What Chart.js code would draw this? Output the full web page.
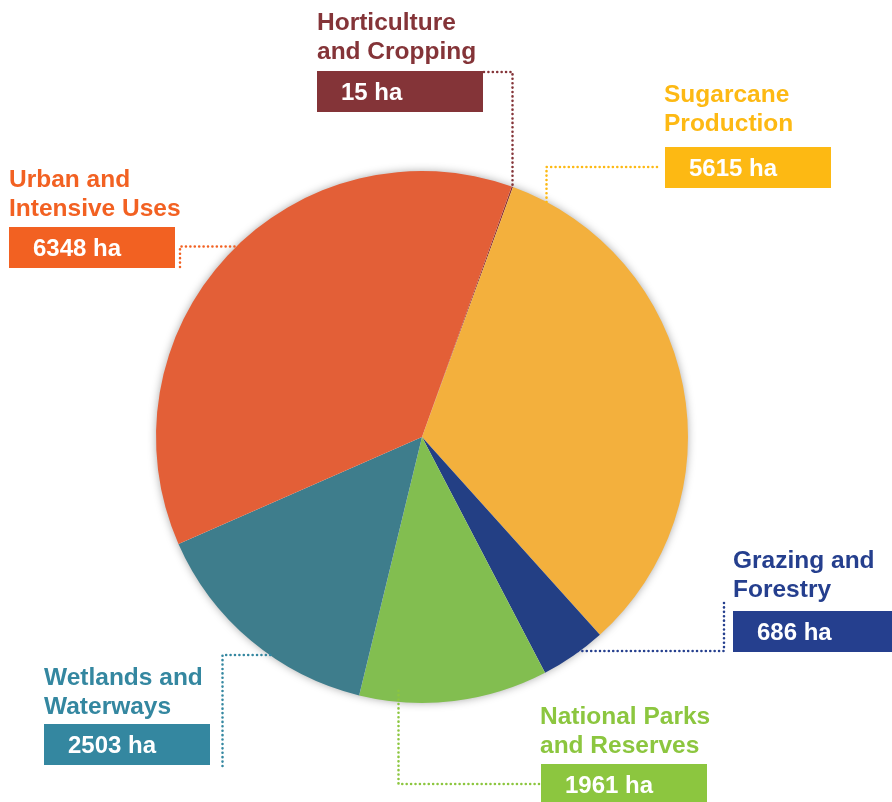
<!DOCTYPE html>
<html>
<head>
<meta charset="utf-8">
<script src="https://cdn.jsdelivr.net/npm/chart.js@4.4.1/dist/chart.umd.min.js"></script>
<style>
  html, body { margin: 0; padding: 0; background: #ffffff; }
  #wrap { width: 892px; height: 802px; position: relative; }
</style>
</head>
<body>
<div id="wrap"><canvas id="c" width="892" height="802"></canvas></div>
<script>
// ---- data ----
const categories = ['Horticulture and Cropping', 'Sugarcane Production', 'Grazing and Forestry', 'National Parks and Reserves', 'Wetlands and Waterways', 'Urban and Intensive Uses'];
const titleLines = [['Horticulture', 'and Cropping'], ['Sugarcane', 'Production'], ['Grazing and', 'Forestry'], ['National Parks', 'and Reserves'], ['Wetlands and', 'Waterways'], ['Urban and', 'Intensive Uses']];
const areas = [15, 5615, 686, 1961, 2503, 6348];
const unit = 'ha';

// ---- styles ----
const sliceColors = ['#8a3739', '#f3b03d', '#233f84', '#82be50', '#3e7d8c', '#e35f37'];
const labelColors = ['#843438', '#fdb913', '#253f8e', '#8cc63f', '#3487a0', '#f26122'];

// label layout: title x / first baseline, box rect, value text x, leader path
const labelLayout = [
  { tx: 317, ty: 30,  bx: 317, by: 71,  bw: 166, bh: 41, vx: 341, leader: { sx: 484, sy: 72,  cx: 512.5, cy: 72,  dir: 'v', side: -1, inset: 0 } },
  { tx: 664, ty: 102, bx: 665, by: 147, bw: 166, bh: 41, vx: 689, leader: { sx: 657, sy: 167, cx: 546.5, cy: 167, dir: 'v', side: -1, inset: 3 } },
  { tx: 733, ty: 568, bx: 733, by: 611, bw: 170, bh: 41, vx: 757, leader: { sx: 724, sy: 603, cx: 724, cy: 651, dir: 'h', side: 1, inset: 5 } },
  { tx: 540, ty: 724, bx: 541, by: 764, bw: 166, bh: 40, vx: 565, leader: { sx: 539, sy: 784, cx: 398.5, cy: 784, dir: 'v', side: 1, inset: 13 } },
  { tx: 44,  ty: 685, bx: 44,  by: 724, bw: 166, bh: 41, vx: 68,  leader: { sx: 222.5, sy: 766, cx: 222.5, cy: 655, dir: 'h', side: -1, inset: 4 } },
  { tx: 9,   ty: 187, bx: 9,   by: 227, bw: 166, bh: 41, vx: 33,  leader: { sx: 180, sy: 267, cx: 180, cy: 246.5, dir: 'h', side: -1, inset: 3 } }
];

const FONT = '"Liberation Sans", Arial, sans-serif';

const shadowPlugin = {
  id: 'pieShadow',
  beforeDatasetsDraw(chart) {
    const arc = chart.getDatasetMeta(0).data[0];
    if (!arc) return;
    const ctx = chart.ctx;
    ctx.save();
    ctx.shadowColor = 'rgba(0,0,0,0.4)';
    ctx.shadowBlur = 10;
    ctx.fillStyle = '#ffffff';
    ctx.beginPath();
    ctx.arc(arc.x, arc.y, arc.outerRadius - 1, 0, Math.PI * 2);
    ctx.fill();
    ctx.restore();
  }
};

const labelPlugin = {
  id: 'calloutLabels',
  afterDraw(chart) {
    const ctx = chart.ctx;
    const meta = chart.getDatasetMeta(0);
    const a0 = meta.data[0];
    const pcx = a0.x, pcy = a0.y, r = a0.outerRadius;
    labelLayout.forEach((L, i) => {
      const col = labelColors[i];
      // leader
      const ld = L.leader;
      let ex, ey;
      if (ld.dir === 'v') {
        const d = Math.sqrt(Math.max(0, r * r - (ld.cx - pcx) * (ld.cx - pcx)));
        ex = ld.cx;
        ey = pcy + ld.side * d - ld.side * ld.inset;
      } else {
        const d = Math.sqrt(Math.max(0, r * r - (ld.cy - pcy) * (ld.cy - pcy)));
        ey = ld.cy;
        ex = pcx + ld.side * d - ld.side * ld.inset;
      }
      ctx.save();
      ctx.strokeStyle = col;
      ctx.lineWidth = 2.6;
      ctx.lineCap = 'round';
      ctx.setLineDash([0.01, 4.4]);
      ctx.beginPath();
      ctx.moveTo(ld.sx, ld.sy);
      ctx.lineTo(ld.cx, ld.cy);
      ctx.lineTo(ex, ey);
      ctx.stroke();
      ctx.restore();

      // title
      ctx.save();
      ctx.fillStyle = col;
      ctx.font = 'bold 24.5px ' + FONT;
      ctx.textBaseline = 'alphabetic';
      ctx.textAlign = 'left';
      titleLines[i].forEach((t, k) => ctx.fillText(t, L.tx, L.ty + k * 28.5));
      // box
      ctx.fillRect(L.bx, L.by, L.bw, L.bh);
      ctx.fillStyle = '#ffffff';
      ctx.font = 'bold 24px ' + FONT;
      ctx.fillText(areas[i] + ' ' + unit, L.vx, L.by + 29);
      ctx.restore();
    });
  }
};

new Chart(document.getElementById('c'), {
  type: 'pie',
  data: {
    labels: categories,
    datasets: [{
      data: areas,
      backgroundColor: sliceColors,
      borderWidth: 0,
      hoverOffset: 0
    }]
  },
  options: {
    responsive: false,
    animation: false,
    rotation: 19.7,
    layout: { padding: { left: 156, top: 170, right: 204, bottom: 98 } },
    plugins: {
      legend: { display: false },
      tooltip: { enabled: false },
      title: { display: false }
    }
  },
  plugins: [shadowPlugin, labelPlugin]
});
</script>
</body>
</html>
